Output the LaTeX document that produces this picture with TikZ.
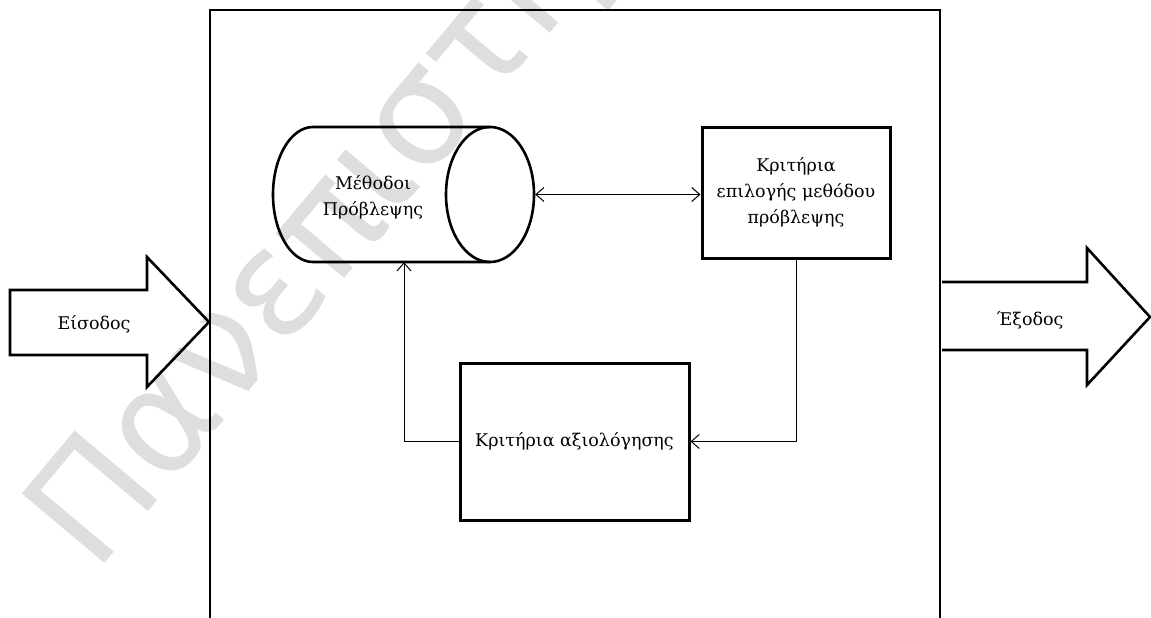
\documentclass[tikz,border=0pt]{standalone}
\usepackage{fontspec}
\setmainfont{DejaVu Serif}
\newfontfamily\wmfont{DejaVu Sans}
\usetikzlibrary{arrows.meta}
\begin{document}
\begin{tikzpicture}[x=1pt,y=-1pt,
  thick box/.style={draw,line width=3pt,line join=miter,inner sep=0pt},
  hollow/.style={draw,line width=2.6pt,line join=miter},
  conn/.style={line width=1pt},
  tipend/.style={-{Straight Barb[length=8pt,width=14pt,line width=1pt]}},
  tipboth/.style={{Straight Barb[length=8pt,width=14pt,line width=1pt]}-{Straight Barb[length=8pt,width=14pt,line width=1pt]}},
  label/.style={font=\fontsize{17.5}{26}\selectfont,align=center,inner sep=0pt}]
\useasboundingbox (0,0) rectangle (1151,618);
\clip (0,0) rectangle (1151,618);
\fill[white] (0,0) rectangle (1151,618);
% watermark
\node[anchor=base west,rotate=50,text=black!13,font=\wmfont\fontsize{148}{148}\selectfont,inner sep=0pt] (wm) at (95,575) {Πανεπιστήμιο};
% outer frame
\draw[line width=2.6pt] (210,700) -- (210,10) -- (940,10) -- (940,700);
% cylinder
\node[minimum width=262pt,minimum height=135pt,inner sep=0pt] (cyl) at (404,194.5) {};
\draw[line width=2.6pt] (490,127) -- (313,127) arc[start angle=90,end angle=270,x radius=40pt,y radius=67.5pt] -- (490,262);
\draw[line width=2.6pt] (490,194.5) ellipse[x radius=44pt,y radius=67.5pt];
\node[label] (cyltext) at (373,197) {Μέθοδοι\\Πρόβλεψης};
% boxes
\node[thick box,minimum width=188pt,minimum height=131pt,label,align=center] (crit) at (796,192.5) {Κριτήρια\\επιλογής μεθόδου\\πρόβλεψης};
\node[thick box,minimum width=229pt,minimum height=157pt,label] (eval) at (574.5,441.5) {Κριτήρια αξιολόγησης};
% connectors
\draw[conn,tipboth] (cyl.east) -- (crit.west |- cyl.east);
\draw[conn,tipend] (crit.south) |- (eval.east);
\draw[conn,tipend] (eval.west) -| (cyl.south);
% input / output arrows
\draw[hollow] (10,290) -- (147,290) -- (147,257) -- (209,322) -- (147,387) -- (147,355) -- (10,355) -- cycle;
\node[label] (in) at (94,324) {Είσοδος};
\draw[hollow] (942,282) -- (1087,282) -- (1087,248) -- (1150,317) -- (1087,385) -- (1087,350) -- (942,350);
\node[label] (out) at (1030,320) {Έξοδος};
\end{tikzpicture}
\end{document}
